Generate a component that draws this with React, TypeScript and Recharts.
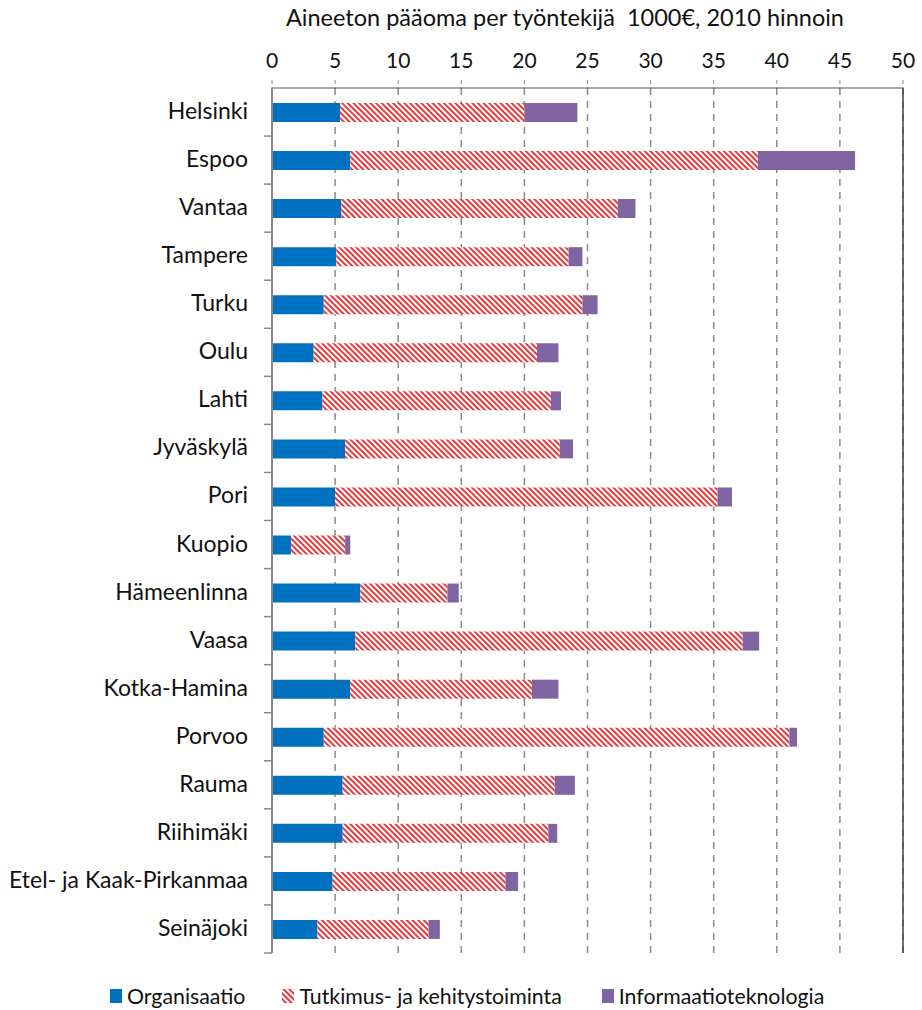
import React from "react";
import {
	Bar,
	BarChart,
	CartesianGrid,
	ReferenceLine,
	XAxis,
	YAxis,
} from "recharts";

const categories = [
	"Helsinki",
	"Espoo",
	"Vantaa",
	"Tampere",
	"Turku",
	"Oulu",
	"Lahti",
	"Jyväskylä",
	"Pori",
	"Kuopio",
	"Hämeenlinna",
	"Vaasa",
	"Kotka-Hamina",
	"Porvoo",
	"Rauma",
	"Riihimäki",
	"Etel- ja Kaak-Pirkanmaa",
	"Seinäjoki",
];

const organisaatio = [5.4, 6.2, 5.5, 5.1, 4.1, 3.3, 4.0, 5.8, 5.0, 1.5, 7.0, 6.6, 6.2, 4.1, 5.6, 5.6, 4.8, 3.6];
const tutkimus = [14.6, 32.3, 21.9, 18.4, 20.5, 17.7, 18.1, 17.0, 30.3, 4.3, 6.9, 30.7, 14.4, 36.9, 16.8, 16.3, 13.7, 8.8];
const informaatio = [4.2, 7.7, 1.4, 1.1, 1.2, 1.7, 0.8, 1.05, 1.15, 0.4, 0.9, 1.3, 2.1, 0.6, 1.6, 0.7, 1.0, 0.9];

const xTicks = [0, 5, 10, 15, 20, 25, 30, 35, 40, 45, 50];

const data = categories.map((name, i) => ({
	name,
	org: organisaatio[i],
	tk: tutkimus[i],
	it: informaatio[i],
}));

const FONT = "Lato, 'Open Sans', sans-serif";
const BLUE = "#0070C0";
const RED = "#E8393B";
const PURPLE = "#8064A2";
const TEXT = "#111";

const W = 922;
const H = 1010;
const margin = { top: 38, right: 19, bottom: 57, left: 0 };
const plotH = H - margin.top - 50 - margin.bottom;
const band = plotH / categories.length;

const Hatch = ({ id }: { id: string }) => (
	<pattern id={id} patternUnits="userSpaceOnUse" width={4} height={4} patternTransform="rotate(-45)">
		<rect width={4} height={4} fill="#fff" />
		<rect width={2} height={4} fill={RED} />
	</pattern>
);

const CategoryTick = (props: any) => {
	const { x, y, payload } = props;
	return (
		<g>
			<line x1={x + 16} x2={x + 24} y1={y + band / 2} y2={y + band / 2} stroke="#888" strokeWidth={1.5} />
			<text x={x} y={y} dy={7} textAnchor="end" fontSize={23} fill={TEXT} fontFamily={FONT}>
				{payload.value}
			</text>
		</g>
	);
};

const LegendSwatch = ({ kind }: { kind: string }) => (
	<svg width={12} height={14} style={{ marginRight: 5, verticalAlign: "-1px" }}>
		<defs>
			<Hatch id="legendHatch" />
		</defs>
		<rect width={12} height={14} fill={kind === "org" ? BLUE : kind === "it" ? PURPLE : "url(#legendHatch)"} />
	</svg>
);

export default function App() {
	return (
		<div style={{ position: "absolute", left: 0, top: 0, width: W, height: H, background: "#fff", fontFamily: FONT }}>
			<div
				style={{
					position: "absolute",
					top: 3,
					left: 0,
					width: 1130,
					textAlign: "center",
					fontSize: 23.5,
					color: TEXT,
					whiteSpace: "pre",
				}}
			>
				{"Aineeton pääoma per työntekijä  1000€, 2010 hinnoin"}
			</div>
			<BarChart width={W} height={H} data={data} layout="vertical" margin={margin} barSize={19}>
				<defs>
					<Hatch id="hatch" />
				</defs>
				<CartesianGrid horizontal={false} stroke="#8a8a8a" strokeWidth={1.5} strokeDasharray="7 6" />
				<XAxis
					type="number"
					orientation="top"
					domain={[0, 50]}
					ticks={xTicks}
					interval={0}
					height={50}
					tickSize={8}
					tickMargin={12}
					stroke="#555"
					tickLine={{ stroke: "#888", strokeDasharray: "4 3" }}
					tick={{ fontSize: 21, fill: TEXT, fontFamily: FONT }}
				/>
				<XAxis
					xAxisId="bottom"
					type="number"
					orientation="bottom"
					domain={[0, 50]}
					height={0}
					tick={false}
					tickLine={false}
					stroke="#444"
				/>
				<YAxis
					type="category"
					dataKey="name"
					width={272}
					tickSize={8}
					tickMargin={16}
					tickLine={false}
					stroke="#888"
					strokeWidth={2}
					interval={0}
					tick={<CategoryTick />}
				/>
				<ReferenceLine x={50} stroke="#444" strokeWidth={1.5} />
				<Bar dataKey="org" stackId="a" fill={BLUE} isAnimationActive={false} />
				<Bar dataKey="tk" stackId="a" fill="url(#hatch)" isAnimationActive={false} />
				<Bar dataKey="it" stackId="a" fill={PURPLE} isAnimationActive={false} />
			</BarChart>
			<div
				style={{
					position: "absolute",
					top: 983,
					left: 110,
					fontSize: 21.3,
					color: TEXT,
					whiteSpace: "nowrap",
					display: "flex",
					alignItems: "center",
				}}
			>
				<span style={{ display: "flex", alignItems: "center", marginRight: 37 }}>
					<LegendSwatch kind="org" />
					Organisaatio
				</span>
				<span style={{ display: "flex", alignItems: "center", marginRight: 40 }}>
					<LegendSwatch kind="tk" />
					Tutkimus- ja kehitystoiminta
				</span>
				<span style={{ display: "flex", alignItems: "center" }}>
					<LegendSwatch kind="it" />
					Informaatioteknologia
				</span>
			</div>
		</div>
	);
}
